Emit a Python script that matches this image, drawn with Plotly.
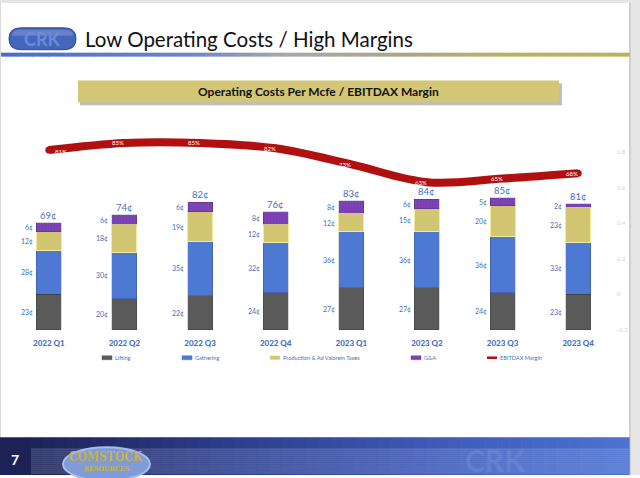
import plotly.graph_objects as go

# ---------------- data ----------------
categories = ["2022 Q1", "2022 Q2", "2022 Q3", "2022 Q4",
              "2023 Q1", "2023 Q2", "2023 Q3", "2023 Q4"]
lifting = [23, 20, 22, 24, 27, 27, 24, 23]
gathering = [28, 30, 35, 32, 36, 36, 36, 33]
taxes = [12, 18, 19, 12, 12, 15, 20, 23]
g_and_a = [6, 6, 6, 8, 8, 6, 5, 2]
totals = [69, 74, 82, 76, 83, 84, 85, 81]
ebitdax_margin = [0.81, 0.85, 0.85, 0.82, 0.73, 0.63, 0.65, 0.68]
margin_labels = ["81%", "85%", "85%", "82%", "73%", "63%", "65%", "68%"]
right_tick_vals = [-0.2, 0, 0.2, 0.4, 0.6, 0.8]
right_tick_text = ["-0.2", "0", "0.2", "0.4", "0.6", "0.8"]
legend_names = ["Lifting", "Gathering", "Production & Ad Valorem Taxes", "G&A", "EBITDAX Margin"]

W, H = 640, 478
BLUE_TXT = "#4472c4"
FONT = "Lato"
C_LIFT, C_GATH, C_TAX, C_GA, C_LINE = "#5a5a5a", "#4d79d3", "#d3c673", "#7c43b6", "#b01010"


def px(x):
    return x / W


def py(y):
    return 1 - y / H


def hex2rgb(h):
    h = h.lstrip("#")
    return tuple(int(h[i:i + 2], 16) for i in (0, 2, 4))


def lerp_color(stops, t):
    for (t0, c0), (t1, c1) in zip(stops[:-1], stops[1:]):
        if t0 <= t <= t1:
            f = 0 if t1 == t0 else (t - t0) / (t1 - t0)
            a, b = hex2rgb(c0), hex2rgb(c1)
            return "rgb(%d,%d,%d)" % tuple(round(a[i] + (b[i] - a[i]) * f) for i in range(3))
    return stops[-1][1]


fig = go.Figure()

fig.add_trace(go.Bar(name=legend_names[0], x=categories, y=lifting,
                     marker=dict(color=C_LIFT, line=dict(color="rgba(0,0,0,0.25)", width=0.6))))
fig.add_trace(go.Bar(name=legend_names[1], x=categories, y=gathering,
                     marker=dict(color=C_GATH, line=dict(color="rgba(0,0,0,0.25)", width=0.6))))
fig.add_trace(go.Bar(name=legend_names[2], x=categories, y=taxes,
                     marker=dict(color=C_TAX, line=dict(color="#f3eb9c", width=1))))
fig.add_trace(go.Bar(name=legend_names[3], x=categories, y=g_and_a,
                     marker=dict(color=C_GA, line=dict(color="rgba(0,0,0,0.25)", width=0.6),
                                 pattern=dict(shape=".", fgcolor="#6a34a2", size=3, solidity=0.2))))
fig.add_trace(go.Scatter(name=legend_names[4], x=categories, y=ebitdax_margin, yaxis="y2",
                         mode="lines+markers", line=dict(color=C_LINE, width=8, shape="spline"),
                         marker=dict(color=C_LINE, size=7), cliponaxis=False))

annotations = []
# margin labels on the line
for i, cat in enumerate(categories):
    annotations.append(dict(x=cat, y=ebitdax_margin[i], xref="x", yref="y2", text=margin_labels[i],
                            showarrow=False, xanchor="center", yanchor="middle",
                            xshift=12 if i == 0 else -6,
                            yshift=-1 if i == 0 else 0,
                            font=dict(color="white", size=6, family=FONT)))
# segment value labels left of bars
for i, cat in enumerate(categories):
    base = 0
    for seg in (lifting[i], gathering[i], taxes[i], g_and_a[i]):
        annotations.append(dict(x=cat, y=base + seg / 2, xref="x", yref="y", text=f"{seg}¢",
                                showarrow=False, xanchor="right", yanchor="middle", xshift=-14,
                                font=dict(color=BLUE_TXT, size=7, family=FONT)))
        base += seg
    annotations.append(dict(x=cat, y=totals[i], xref="x", yref="y", text=f"{totals[i]}¢",
                            showarrow=False, xanchor="center", yanchor="bottom", yshift=0,
                            font=dict(color=BLUE_TXT, size=9.5, family=FONT)))

shapes = []
# gray page frame
shapes.append(dict(type="rect", xref="paper", yref="paper", x0=0, x1=1, y0=py(3), y1=1,
                   fillcolor="#e4e4e4", line=dict(width=0), layer="below"))
shapes.append(dict(type="rect", xref="paper", yref="paper", x0=px(629), x1=1, y0=0, y1=1,
                   fillcolor="#e6e6e6", line=dict(width=0), layer="below"))
shapes.append(dict(type="rect", xref="paper", yref="paper", x0=px(629), x1=px(631), y0=0, y1=py(3),
                   fillcolor="#d0d0d0", line=dict(width=0), layer="below"))
shapes.append(dict(type="rect", xref="paper", yref="paper", x0=0, x1=px(1), y0=0, y1=py(3),
                   fillcolor="#dadada", line=dict(width=0), layer="below"))

# title underline gradient
line_stops = [(0, "#4a6ec8"), (0.3, "#6e86c4"), (0.45, "#a8a8a8"), (0.65, "#a9a58a"), (0.8, "#bbb063"), (1, "#bdb25c")]
N = 40
for k in range(N):
    x0 = 1 + 628 * k / N
    x1 = 1 + 628 * (k + 1) / N
    shapes.append(dict(type="rect", xref="paper", yref="paper", x0=px(x0), x1=px(x1) + 0.001,
                       y0=py(57), y1=py(53), fillcolor=lerp_color(line_stops, k / (N - 1)),
                       line=dict(width=0), layer="below"))

# CRK logo pill
shapes.append(dict(type="path", xref="paper", yref="paper",
                   path=f"M {px(21)},{py(28)} L {px(64)},{py(28)} "
                        f"Q {px(76)},{py(28)} {px(76)},{py(39)} Q {px(76)},{py(50)} {px(64)},{py(50)} "
                        f"L {px(21)},{py(50)} Q {px(9)},{py(50)} {px(9)},{py(39)} Q {px(9)},{py(28)} {px(21)},{py(28)} Z",
                   fillcolor="#4566bd", line=dict(color="#2d4895", width=1), layer="below"))
shapes.append(dict(type="path", xref="paper", yref="paper",
                   path=f"M {px(20)},{py(30)} L {px(64)},{py(30)} "
                        f"Q {px(73)},{py(30)} {px(73)},{py(36)} L {px(12)},{py(36)} "
                        f"Q {px(12)},{py(30)} {px(20)},{py(30)} Z",
                   fillcolor="rgba(255,255,255,0.18)", line=dict(width=0), layer="below"))

# subtitle box with shadow
shapes.append(dict(type="rect", xref="paper", yref="paper", x0=px(80), x1=px(562), y0=py(106), y1=py(84),
                   fillcolor="#bdbdbd", line=dict(width=0), layer="below"))
shapes.append(dict(type="rect", xref="paper", yref="paper", x0=px(78), x1=px(559), y0=py(103), y1=py(81),
                   fillcolor="#d3c675", line=dict(width=0), layer="below"))

# footer gradient
foot_stops = [(0, "#1d2458"), (0.35, "#2d3f8e"), (0.7, "#3f5cb8"), (1, "#4b71d2")]
M = 50
for k in range(M):
    x0 = 30 + 599 * k / M
    x1 = 30 + 599 * (k + 1) / M
    shapes.append(dict(type="rect", xref="paper", yref="paper", x0=px(x0), x1=px(x1) + 0.001,
                       y0=0, y1=py(440), fillcolor=lerp_color(foot_stops, k / (M - 1)),
                       line=dict(width=0), layer="below"))
shapes.append(dict(type="rect", xref="paper", yref="paper", x0=0, x1=px(30), y0=0, y1=py(440),
                   fillcolor="#1c2256", line=dict(width=0), layer="below"))
# stripes
for yy in range(452, 478, 2):
    shapes.append(dict(type="line", xref="paper", yref="paper", x0=px(31), x1=px(629),
                       y0=py(yy), y1=py(yy), line=dict(color="rgba(200,210,240,0.35)", width=1),
                       layer="below"))
# comstock oval
shapes.append(dict(type="circle", xref="paper", yref="paper", x0=px(63), x1=px(150), y0=py(484), y1=py(450),
                   fillcolor="#7f9bd8", line=dict(color="#a9bde8", width=2), layer="below"))

# custom legend (swatches + labels)
legend_x = [102, 182, 270, 411, 487]
legend_colors = [C_LIFT, C_GATH, C_TAX, C_GA, C_LINE]
LY = 360
for k, (lx, name, col) in enumerate(zip(legend_x, legend_names, legend_colors)):
    if k == 4:
        shapes.append(dict(type="line", xref="paper", yref="paper", x0=px(lx), x1=px(lx + 10),
                           y0=py(LY), y1=py(LY), line=dict(color=col, width=2.5)))
    else:
        shapes.append(dict(type="rect", xref="paper", yref="paper", x0=px(lx), x1=px(lx + 10),
                           y0=py(LY + 2), y1=py(LY - 2), fillcolor=col,
                           line=dict(color="#f3eb9c" if k == 2 else col, width=0.5)))
    annotations.append(dict(x=px(lx + 11), y=py(LY), xref="paper", yref="paper", text=name,
                            showarrow=False, xanchor="left", yanchor="middle",
                            font=dict(size=5.6, color=BLUE_TXT, family=FONT)))

annotations += [
    dict(x=px(83), y=py(39), xref="paper", yref="paper", text="Low Operating Costs / High Margins",
         showarrow=False, xanchor="left", yanchor="middle", font=dict(size=20.5, color="#111111", family=FONT)),
    dict(x=px(42), y=py(39), xref="paper", yref="paper", text="<b>CRK</b>",
         showarrow=False, xanchor="center", yanchor="middle", font=dict(size=18, color="#6d8bd6", family=FONT)),
    dict(x=px(318), y=py(92), xref="paper", yref="paper", text="<b>Operating Costs Per Mcfe / EBITDAX Margin</b>",
         showarrow=False, xanchor="center", yanchor="middle", font=dict(size=12, color="#111111", family=FONT)),
    dict(x=px(15), y=py(462), xref="paper", yref="paper", text="<b>7</b>",
         showarrow=False, xanchor="center", yanchor="middle", font=dict(size=14, color="white", family=FONT)),
    dict(x=px(106), y=py(460), xref="paper", yref="paper", text="<b>COMSTOCK</b>",
         showarrow=False, xanchor="center", yanchor="middle",
         font=dict(size=12, color="#c9b245", family="DejaVu Serif Condensed")),
    dict(x=px(107), y=py(471), xref="paper", yref="paper", text="<b>RESOURCES</b>",
         showarrow=False, xanchor="center", yanchor="middle",
         font=dict(size=7, color="#c9b245", family="DejaVu Serif Condensed")),
    dict(x=px(495), y=py(463), xref="paper", yref="paper", text="<b>CRK</b>",
         showarrow=False, xanchor="center", yanchor="middle",
         font=dict(size=30, color="rgba(110,140,215,0.55)", family=FONT)),
]

fig.update_layout(
    width=W, height=H,
    margin=dict(l=0, r=0, t=0, b=0),
    paper_bgcolor="white", plot_bgcolor="rgba(0,0,0,0)",
    barmode="stack", bargap=0.67,
    font=dict(family=FONT),
    xaxis=dict(domain=[px(11), px(616)], showgrid=False, zeroline=False, showline=False,
               ticks="", tickfont=dict(color=BLUE_TXT, size=8, family=FONT + " Black"),
               ticklabelstandoff=7, anchor="y"),
    yaxis=dict(domain=[py(332), py(117)], range=[0, 137.4], visible=False),
    yaxis2=dict(domain=[py(332), py(117)], range=[-0.2, 1.0], overlaying="y", side="right",
                anchor="x", showgrid=False, zeroline=False, showline=False,
                tickvals=right_tick_vals, ticktext=right_tick_text,
                tickfont=dict(color="#d4d4d4", size=6, family=FONT), ticks=""),
    showlegend=False,
    shapes=shapes,
    annotations=annotations,
)

fig.write_html("out.html", config={"displayModeBar": False},
               post_script="document.body.style.margin='0px';")
